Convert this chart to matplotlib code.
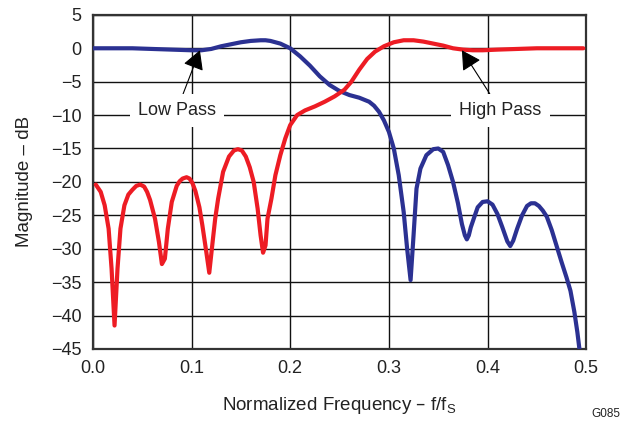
import matplotlib.pyplot as plt

plt.rcParams['font.family'] = ['Liberation Sans', 'DejaVu Sans']

# Curvas (frecuencia normalizada, dB)
low_x = [0.000, 0.020, 0.040, 0.060, 0.080, 0.100, 0.110, 0.120, 0.130, 0.140,
         0.150, 0.160, 0.170, 0.175, 0.180, 0.190, 0.200, 0.210, 0.220, 0.230,
         0.240, 0.250, 0.260, 0.270, 0.280, 0.285, 0.290, 0.295, 0.300, 0.305,
         0.310, 0.315, 0.3185, 0.322, 0.325, 0.328, 0.332, 0.338, 0.345, 0.350,
         0.355, 0.360, 0.365, 0.370, 0.374, 0.377, 0.379, 0.381, 0.383, 0.386,
         0.390, 0.395, 0.400, 0.405, 0.410, 0.415, 0.420, 0.423, 0.426, 0.430,
         0.435, 0.440, 0.444, 0.448, 0.452, 0.456, 0.460, 0.465, 0.470, 0.475,
         0.480, 0.484, 0.488, 0.491, 0.4935]
low_db = [0.0, 0.0, 0.0, -0.1, -0.2, -0.3, -0.3, -0.1, 0.3, 0.6,
          0.9, 1.1, 1.2, 1.2, 1.1, 0.7, 0.0, -1.2, -2.6, -4.2,
          -5.5, -6.4, -7.0, -7.4, -8.0, -8.6, -9.5, -10.8, -12.5, -15.0,
          -19.0, -24.5, -30.0, -34.7, -28.0, -21.0, -18.0, -16.0, -15.1, -15.0,
          -15.5, -17.5, -20.0, -23.2, -26.3, -28.0, -28.6, -28.0, -26.8, -25.5,
          -23.8, -23.0, -22.9, -23.4, -24.8, -26.8, -28.9, -29.6, -28.8, -27.0,
          -25.0, -23.6, -23.2, -23.2, -23.6, -24.3, -25.2, -27.2, -29.6, -32.0,
          -34.3, -36.3, -39.5, -42.5, -45.5]

high_x = [0.003, 0.008, 0.012, 0.016, 0.019, 0.022, 0.025, 0.028, 0.032, 0.036,
          0.040, 0.044, 0.048, 0.052, 0.055, 0.058, 0.063, 0.067, 0.070, 0.073,
          0.076, 0.080, 0.085, 0.088, 0.091, 0.095, 0.098, 0.101, 0.104, 0.108,
          0.111, 0.115, 0.118, 0.121, 0.124, 0.127, 0.132, 0.138, 0.143, 0.147,
          0.151, 0.155, 0.159, 0.163, 0.167, 0.170, 0.1725, 0.175, 0.177, 0.181,
          0.185, 0.190, 0.195, 0.200, 0.207, 0.215, 0.225, 0.235, 0.245, 0.255,
          0.262, 0.270, 0.278, 0.286, 0.295, 0.305, 0.315, 0.325, 0.335, 0.345,
          0.355, 0.365, 0.375, 0.385, 0.395, 0.410, 0.430, 0.450, 0.470, 0.497]
high_db = [-20.4, -21.5, -23.5, -27.0, -33.0, -41.5, -33.0, -27.0, -23.5, -21.9,
           -21.2, -20.6, -20.4, -20.7, -21.5, -22.7, -25.5, -29.0, -32.3, -31.5,
           -27.0, -23.0, -20.6, -19.9, -19.5, -19.3, -19.5, -20.2, -21.4, -23.8,
           -26.5, -30.5, -33.6, -29.5, -25.5, -22.5, -18.5, -16.2, -15.3, -15.1,
           -15.3, -16.2, -17.8, -20.0, -24.0, -28.0, -30.6, -29.5, -25.5, -22.5,
           -19.0, -16.0, -13.5, -11.5, -10.0, -9.3, -8.7, -8.0, -7.2, -6.2,
           -5.0, -3.2, -1.6, -0.5, 0.3, 0.9, 1.2, 1.2, 1.0, 0.7,
           0.4, 0.0, -0.2, -0.3, -0.3, -0.2, -0.1, 0.0, 0.0, 0.0]

xticks = [0.0, 0.1, 0.2, 0.3, 0.4, 0.5]
yticks = [5, 0, -5, -10, -15, -20, -25, -30, -35, -40, -45]

fig = plt.figure(figsize=(6.23, 4.25), dpi=100)
ax = fig.add_axes([0.149, 0.179, 0.792, 0.786])

ax.plot(low_x, low_db, color='#2b3192', lw=3.0, solid_capstyle='round',
        solid_joinstyle='round', zorder=3)
ax.plot(high_x, high_db, color='#ed1c24', lw=3.0, solid_capstyle='round',
        solid_joinstyle='round', zorder=3)

ax.set_xlim(0, 0.5)
ax.set_ylim(-45, 5)
ax.set_xticks(xticks)
ax.set_xticklabels(['%.1f' % t for t in xticks])
ax.set_yticks(yticks)
ax.set_yticklabels([str(t).replace('-', '\u2212') for t in yticks])
ax.tick_params(length=0, labelsize=13, pad=8, colors='#222222')
ax.grid(True, color='#111111', lw=1.0)
ax.set_axisbelow(True)
for s in ax.spines.values():
    s.set_color('#333333')
    s.set_linewidth(1.6)

ax.set_xlabel('Normalized Frequency \u2013 f/f$_\\mathregular{S}$', fontsize=13.5,
              labelpad=13, color='#222222')
ax.set_ylabel('Magnitude \u2013 dB', fontsize=13.5, labelpad=13, color='#222222')

flecha = dict(arrowstyle='-|>,head_length=0.9,head_width=0.5', color='black', lw=0.8,
              shrinkA=0, shrinkB=0)
caja = dict(boxstyle='square,pad=0.45', fc='white', ec='none')
ax.annotate('Low Pass', xy=(0.1085, -0.3), xytext=(0.085, -9.3), fontsize=13,
            ha='center', va='center', bbox=caja, arrowprops=flecha, zorder=4,
            color='#222222')
ax.annotate('High Pass', xy=(0.374, -0.3), xytext=(0.413, -9.3), fontsize=13,
            ha='center', va='center', bbox=caja, arrowprops=flecha, zorder=4,
            color='#222222')

fig.text(0.995, 0.018, 'G085', fontsize=8.5, ha='right', color='#222222')

fig.savefig('out.png', dpi=100)
